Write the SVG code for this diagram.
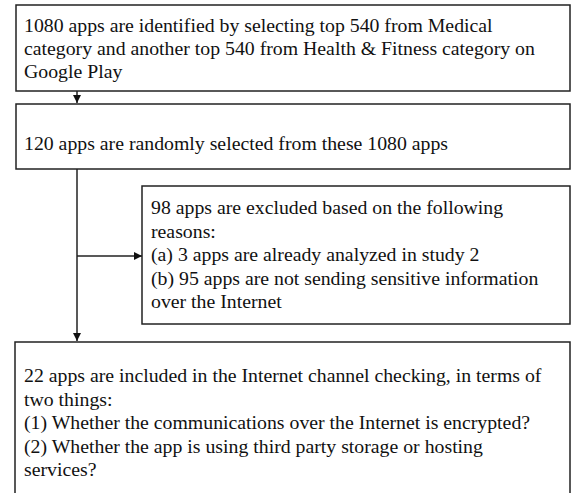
<svg xmlns="http://www.w3.org/2000/svg" width="573" height="493" viewBox="0 0 573 493">
<style>
.box{fill:#fff;stroke:#222;stroke-width:1.5}
.t{font-family:"Liberation Serif","Times New Roman",serif;font-size:19.8px;fill:#111}
.c{stroke:#222;stroke-width:1.5;fill:none}
</style>
<defs>
<marker id="ah" viewBox="0 0 10 10" refX="10" refY="5" markerWidth="10" markerHeight="8" orient="auto" markerUnits="userSpaceOnUse">
<path d="M0,0 L10,5 L0,10 z" fill="#111"/>
</marker>
</defs>
<rect width="573" height="493" fill="#fff"/>
<g id="connectors">
<line class="c" x1="77" y1="91" x2="77" y2="103" marker-end="url(#ah)"/>
<line class="c" x1="77" y1="169" x2="77" y2="341" marker-end="url(#ah)"/>
<line class="c" x1="77" y1="256" x2="142" y2="256" marker-end="url(#ah)"/>
</g>
<g id="node1">
<rect class="box" x="16" y="5" width="554" height="86"/>
<text class="t" x="24" y="32">1080 apps are identified by selecting top 540 from Medical</text>
<text class="t" x="24" y="55">category and another top 540 from Health &amp; Fitness category on</text>
<text class="t" x="24" y="78">Google Play</text>
</g>
<g id="node2">
<rect class="box" x="16" y="104" width="554" height="65"/>
<text class="t" x="24" y="150">120 apps are randomly selected from these 1080 apps</text>
</g>
<g id="node3">
<rect class="box" x="142" y="186" width="428" height="138"/>
<text class="t" x="151" y="214">98 apps are excluded based on the following</text>
<text class="t" x="151" y="238">reasons:</text>
<text class="t" x="151" y="261">(a) 3 apps are already analyzed in study 2</text>
<text class="t" x="151" y="285">(b) 95 apps are not sending sensitive information</text>
<text class="t" x="151" y="308">over the Internet</text>
</g>
<g id="node4">
<rect class="box" x="15" y="342" width="555" height="160"/>
<text class="t" x="24" y="382">22 apps are included in the Internet channel checking, in terms of</text>
<text class="t" x="24" y="406">two things:</text>
<text class="t" x="24" y="429">(1) Whether the communications over the Internet is encrypted?</text>
<text class="t" x="24" y="453">(2) Whether the app is using third party storage or hosting</text>
<text class="t" x="24" y="476">services?</text>
</g>
</svg>
